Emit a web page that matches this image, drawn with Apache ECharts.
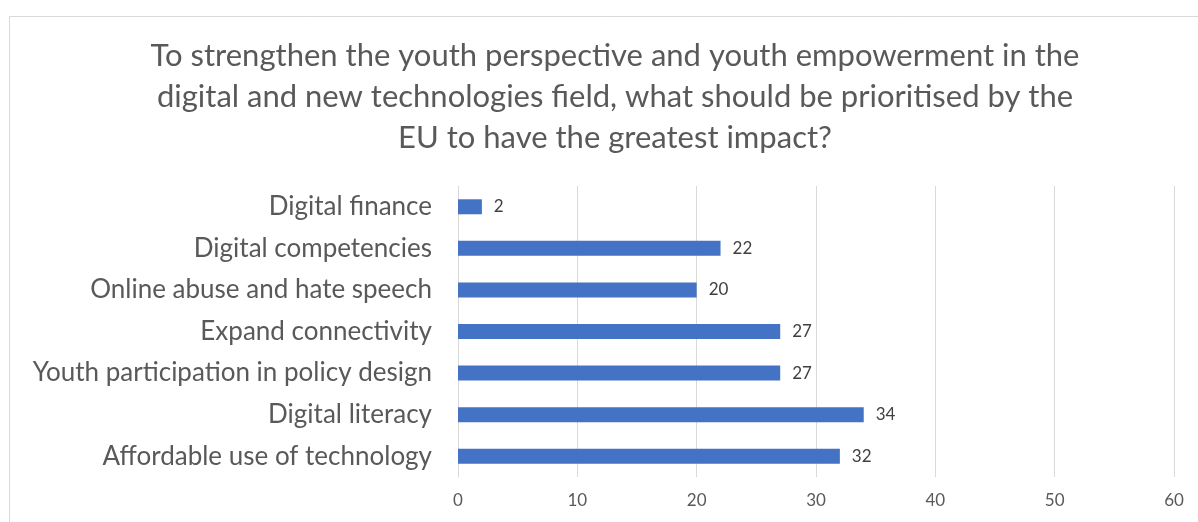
<!DOCTYPE html>
<html>
<head>
<meta charset="utf-8">
<script src="https://cdn.jsdelivr.net/npm/echarts@6/dist/echarts.min.js"></script>
<style>
html,body{margin:0;padding:0;background:#fff;}
#chart{width:1198px;height:522px;}
</style>
</head>
<body>
<div id="chart"></div>
<script>
const titleText = "To strengthen the youth perspective and youth empowerment in the\ndigital and new technologies field, what should be prioritised by the\nEU to have the greatest impact?";
const categories = [
  "Digital finance",
  "Digital competencies",
  "Online abuse and hate speech",
  "Expand connectivity",
  "Youth participation in policy design",
  "Digital literacy",
  "Affordable use of technology"
];
const values = [2, 22, 20, 27, 27, 34, 32];
const xTicks = { min: 0, max: 60, interval: 10 };

const chart = echarts.init(document.getElementById('chart'));
const FONT = 'Lato';
chart.setOption({
  backgroundColor: '#fff',
  animation: false,
  graphic: [{
    type: 'rect',
    shape: { x: 9.5, y: 16.5, width: 1400, height: 800 },
    style: { fill: 'none', stroke: '#d9d9d9', lineWidth: 1 },
    silent: true, z: -1
  }],
  title: {
    text: titleText,
    left: 610,
    top: 30,
    textAlign: 'center',
    textStyle: {
      fontFamily: FONT, fontSize: 31, fontWeight: 'normal',
      color: '#595959', lineHeight: 41
    }
  },
  grid: { left: 458, right: 24, top: 186, bottom: 45 },
  xAxis: {
    type: 'value',
    min: xTicks.min, max: xTicks.max, interval: xTicks.interval,
    axisLine: { show: false },
    axisTick: { show: false },
    splitLine: { lineStyle: { color: '#d9d9d9', width: 1 } },
    axisLabel: { fontFamily: FONT, fontSize: 17, color: '#595959', margin: 15 }
  },
  yAxis: {
    type: 'category',
    data: categories,
    inverse: true,
    axisLine: { lineStyle: { color: '#d9d9d9' } },
    axisTick: { show: false },
    axisLabel: { fontFamily: FONT, fontSize: 26, color: '#595959', margin: 26 }
  },
  series: [{
    type: 'bar',
    data: values,
    barWidth: 15,
    itemStyle: { color: '#4472C4' },
    label: {
      show: true, position: 'right', distance: 12,
      fontFamily: FONT, fontSize: 17, color: '#404040'
    }
  }]
});
</script>
</body>
</html>
